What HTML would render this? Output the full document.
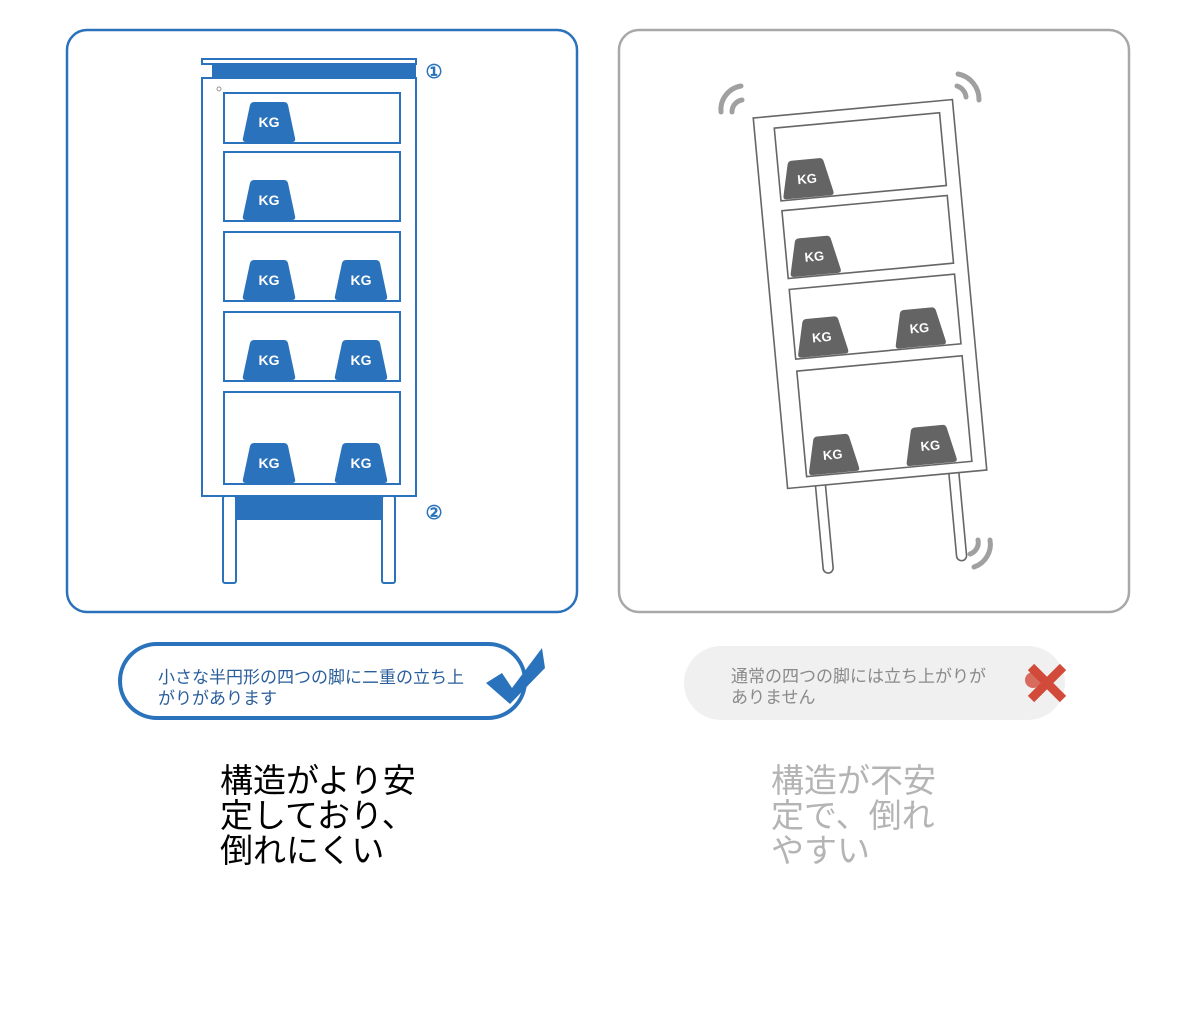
<!DOCTYPE html>
<html><head><meta charset="utf-8"><style>
body{margin:0;background:#fff;width:1200px;height:1021px;overflow:hidden;font-family:"Liberation Sans","Noto Sans CJK JP",sans-serif}
.big{position:absolute;font-size:33px;line-height:35px}
.sm{position:absolute;font-size:17px;line-height:21px}
</style></head><body>
<svg width="1200" height="1021" style="position:absolute;left:0;top:0" font-family="Liberation Sans, sans-serif">
<defs>
<g id="wb"><path d="M-15,-40 L15,-40 Q18,-40 19,-37 L26,-4 Q27,0 23,0 L-23,0 Q-27,0 -26,-4 L-19,-37 Q-18,-40 -15,-40Z" fill="#2a72bb"/><text x="0" y="-15" font-size="14" font-weight="bold" fill="#fff" text-anchor="middle">KG</text></g>
<g id="wg"><path d="M-14,-38 L14,-38 Q17,-38 18,-35 L25,-4 Q26,0 22,0 L-22,0 Q-26,0 -25,-4 L-18,-35 Q-17,-38 -14,-38Z" fill="#646464"/><text x="0" y="-14" font-size="13" font-weight="bold" fill="#fff" text-anchor="middle">KG</text></g>
</defs>
<rect x="67" y="30" width="510" height="582" rx="20" fill="none" stroke="#2a72bb" stroke-width="2.5"/>
<rect x="619" y="30" width="510" height="582" rx="20" fill="none" stroke="#a8a8a8" stroke-width="2.5"/>
<g fill="none" stroke="#2a72bb" stroke-width="2">
<path d="M202,59 L416,59 L416,64 L212,64 L202,64Z"/>
<rect x="202" y="78" width="214" height="418"/>
<rect x="224" y="93" width="176" height="50"/>
<rect x="224" y="152" width="176" height="69"/>
<rect x="224" y="232" width="176" height="69"/>
<rect x="224" y="312" width="176" height="69"/>
<rect x="224" y="392" width="176" height="92"/>
<rect x="223" y="496" width="13" height="87" rx="2"/>
<rect x="382" y="496" width="13" height="87" rx="2"/>
<circle cx="219" cy="89" r="2" stroke="#999" stroke-width="1"/>
</g>
<rect x="212" y="64" width="204" height="14" fill="#2a72bb"/>
<rect x="236" y="497" width="146" height="23" fill="#2a72bb"/>
<text x="434" y="78" font-size="19" font-weight="bold" fill="#2a72bb" text-anchor="middle">①</text>
<text x="434" y="519" font-size="19" font-weight="bold" fill="#2a72bb" text-anchor="middle">②</text>
<use href="#wb" x="269" y="142"/>
<use href="#wb" x="269" y="220"/>
<use href="#wb" x="269" y="300"/><use href="#wb" x="361" y="300"/>
<use href="#wb" x="269" y="380"/><use href="#wb" x="361" y="380"/>
<use href="#wb" x="269" y="483"/><use href="#wb" x="361" y="483"/>
<g transform="rotate(-5.3 870 294)">
<g fill="none" stroke="#666" stroke-width="1.6">
<rect x="770" y="108" width="200" height="372"/>
<rect x="790" y="120" width="166" height="73"/>
<rect x="790" y="203" width="166" height="68"/>
<rect x="790" y="282" width="166" height="70"/>
<rect x="790" y="364" width="166" height="106"/>
<path d="M798,480 L798,563 A5,5 0 0 0 808,563 L808,480"/>
<path d="M932,480 L932,563 A5,5 0 0 0 942,563 L942,480"/>
</g>
<use href="#wg" x="818" y="192"/>
<use href="#wg" x="818" y="270"/>
<use href="#wg" x="818" y="351"/><use href="#wg" x="916" y="351"/>
<use href="#wg" x="818" y="469"/><use href="#wg" x="916" y="469"/>
</g>
<g fill="none" stroke="#a0a0a0" stroke-width="5" stroke-linecap="round">
<path d="M721,112 A24,24 0 0 1 741,86"/>
<path d="M732,112 A12,12 0 0 1 742,100"/>
<path d="M958,74 A26,26 0 0 1 979,100"/>
<path d="M957,86 A13,13 0 0 1 966,97"/>
<path d="M990,540 A24,24 0 0 1 974,567"/>
<path d="M978,540 A12,12 0 0 1 970,554"/>
</g>
<rect x="120" y="644" width="405" height="74" rx="37" fill="#fff" stroke="#2a72bb" stroke-width="4"/>
<path d="M486,683 L502,673 L512,688 L542,648 L545,668 L510,704Z" fill="#2a72bb"/>
<rect x="684" y="646" width="381" height="74" rx="37" fill="#f0f0f0"/>
<g stroke="#d14a3a" stroke-width="9"><line x1="1031" y1="667" x2="1063" y2="699"/><line x1="1063" y1="667" x2="1031" y2="699"/></g>
<circle cx="1033" cy="680" r="8" fill="#d14a3a" opacity="0.8"/>
</svg>
<div class="sm" style="left:158px;top:667px;color:#2a5e9a">小さな半円形の四つの脚に二重の立ち上<br>がりがあります</div>
<div class="sm" style="left:731px;top:666px;color:#8a8a8a">通常の四つの脚には立ち上がりが<br>ありません</div>
<div class="big" style="left:220px;top:763px;color:#000">構造がより安<br>定しており、<br>倒れにくい</div>
<div class="big" style="left:771px;top:763px;color:#b4b4b4">構造が不安<br>定で、倒れ<br>やすい</div>
</body></html>
